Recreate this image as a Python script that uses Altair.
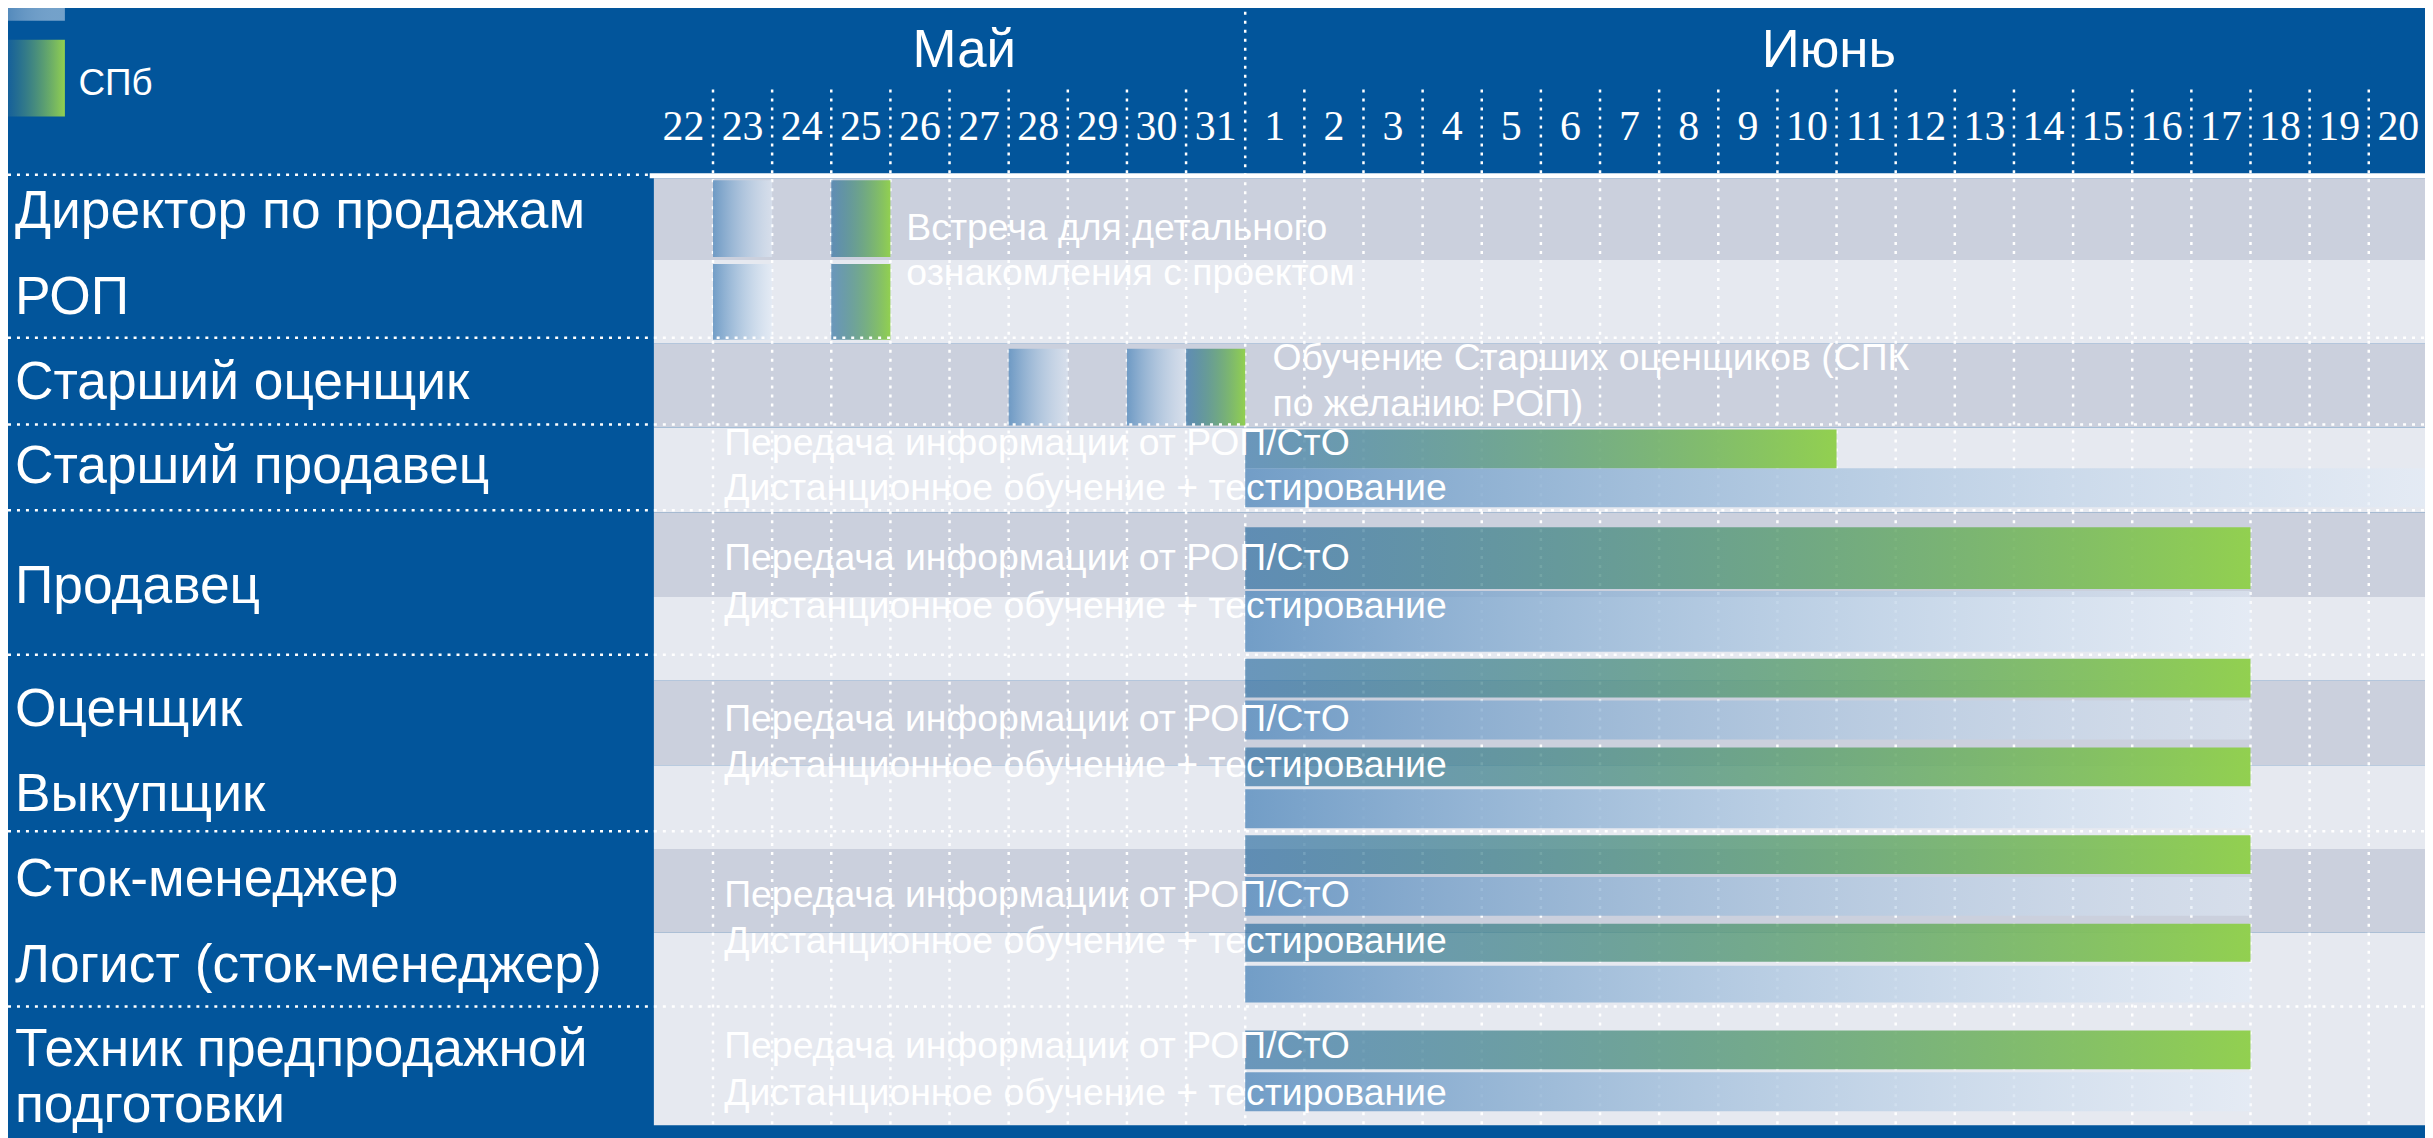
import altair as alt
import pandas as pd

# ---------------- DATA ----------------
day_labels = ["22", "23", "24", "25", "26", "27", "28", "29", "30", "31",
              "1", "2", "3", "4", "5", "6", "7", "8", "9", "10",
              "11", "12", "13", "14", "15", "16", "17", "18", "19", "20"]
month_names = ["Май", "Июнь"]

roles = ["Директор по продажам", "РОП", "Старший оценщик", "Старший продавец",
         "Продавец", "Оценщик", "Выкупщик", "Сток-менеджер",
         "Логист (сток-менеджер)", "Техник предпродажной подготовки"]

task_role = ["Директор по продажам", "Директор по продажам", "РОП", "РОП",
             "Старший оценщик", "Старший оценщик", "Старший оценщик",
             "Старший продавец", "Старший продавец",
             "Продавец", "Продавец",
             "Оценщик", "Оценщик", "Выкупщик", "Выкупщик",
             "Сток-менеджер", "Сток-менеджер",
             "Логист (сток-менеджер)", "Логист (сток-менеджер)",
             "Техник предпродажной подготовки", "Техник предпродажной подготовки"]
task_kind = ["msk", "spb", "msk", "spb",
             "msk", "msk", "spb",
             "spb", "msk",
             "spb", "msk",
             "spb", "msk", "spb", "msk",
             "spb", "msk",
             "spb", "msk",
             "spb", "msk"]
task_first = ["23", "25", "23", "25",
              "28", "30", "31",
              "1", "1",
              "1", "1",
              "1", "1", "1", "1",
              "1", "1",
              "1", "1",
              "1", "1"]
task_last = ["23", "25", "23", "25",
             "28", "30", "31",
             "10", "20",
             "17", "17",
             "17", "17", "17", "17",
             "17", "17",
             "17", "17",
             "17", "17"]

note_role = ["Директор по продажам", "Старший оценщик", "Старший продавец", "Продавец",
             "Оценщик", "Сток-менеджер", "Техник предпродажной подготовки"]
note_lines = [["Встреча для детального", "ознакомления с проектом"],
              ["Обучение Старших оценщиков (СПК", "по желанию РОП)"],
              ["Передача информации от РОП/СтО", "Дистанционное обучение + тестирование"],
              ["Передача информации от РОП/СтО", "Дистанционное обучение + тестирование"],
              ["Передача информации от РОП/СтО", "Дистанционное обучение + тестирование"],
              ["Передача информации от РОП/СтО", "Дистанционное обучение + тестирование"],
              ["Передача информации от РОП/СтО", "Дистанционное обучение + тестирование"]]
legend_label = "СПб"

# ---------------- LAYOUT (x in day units, y in vertical track units) ----------------
BG = "#02559B"
FONT = "Liberation Sans"
SERIF = "Liberation Serif"
W, H = 2425, 1130
X_DOMAIN = [-10.922, 29.951]
Y_DOMAIN = [8, 1138]
TOP_Y = 174.5
PLOT_BOTTOM = 1127
HEADER_GRID_TOP = 88
MONTH_GRID_TOP = 10
month_x = [5.25, 19.87]
MONTH_Y = 65
DAY_Y = 139
LABEL_X = -10.804

bands = [(177, 259, "dark"), (259, 343, "light"), (343, 427, "dark"), (427, 512, "light"),
         (512, 597, "dark"), (597, 681, "light"), (681, 766, "dark"), (766, 850, "light"),
         (850, 934, "dark"), (934, 1127, "light")]
group_lines = [337, 424, 510, 655, 832, 1008]

lanes = {
    "Директор по продажам": {"msk": (179, 256), "spb": (179, 256)},
    "РОП": {"msk": (263, 339), "spb": (263, 339)},
    "Старший оценщик": {"msk": (348, 425), "spb": (348, 425)},
    "Старший продавец": {"spb": (429, 468), "msk": (468, 507)},
    "Продавец": {"spb": (527, 589), "msk": (591, 652)},
    "Оценщик": {"spb": (659, 698), "msk": (701, 740)},
    "Выкупщик": {"spb": (748, 787), "msk": (790, 829)},
    "Сток-менеджер": {"spb": (836, 875), "msk": (878, 917)},
    "Логист (сток-менеджер)": {"spb": (925, 963), "msk": (967, 1004)},
    "Техник предпродажной подготовки": {"spb": (1032, 1071), "msk": (1074, 1113)},
}
label_wrap = {"Техник предпродажной подготовки": ["Техник предпродажной", "подготовки"]}
label_baselines = {
    "Директор по продажам": [227], "РОП": [313], "Старший оценщик": [398],
    "Старший продавец": [483], "Продавец": [603], "Оценщик": [727], "Выкупщик": [812],
    "Сток-менеджер": [897], "Логист (сток-менеджер)": [983],
    "Техник предпродажной подготовки": [1068, 1124],
}
note_pos = {
    "Директор по продажам": (4.27, [239, 284]),
    "Старший оценщик": (10.46, [369, 415]),
    "Старший продавец": (1.19, [455, 500]),
    "Продавец": (1.19, [570, 618]),
    "Оценщик": (1.19, [732, 778]),
    "Сток-менеджер": (1.19, [908, 954]),
    "Техник предпродажной подготовки": (1.19, [1060, 1107]),
}
legend_swatches = [("msk", -10.95, -9.96, 0, 19), ("spb", -10.95, -9.96, 38, 115)]
legend_text_pos = (-9.73, 93)

MSK_GRAD = {"gradient": "linear", "x1": 0, "y1": 0, "x2": 1, "y2": 0,
            "stops": [{"offset": 0, "color": "rgba(95,145,192,0.86)"},
                      {"offset": 1, "color": "rgba(226,236,248,0.5)"}]}
SPB_GRAD = {"gradient": "linear", "x1": 0, "y1": 0, "x2": 1, "y2": 0,
            "stops": [{"offset": 0, "color": "rgba(30,100,155,0.62)"},
                      {"offset": 1, "color": "rgba(146,208,80,1)"}]}

xs = alt.Scale(domain=X_DOMAIN, nice=False, zero=False)
ys = alt.Scale(domain=Y_DOMAIN, nice=False, zero=False, reverse=True)


def xe(f):
    return alt.X(f, type="quantitative", scale=xs, axis=None)


def ye(f):
    return alt.Y(f, type="quantitative", scale=ys, axis=None)


# ---------------- TABLES ----------------
n_days = len(day_labels)
bands_df = pd.DataFrame({"x0": 0.0, "x1": float(n_days),
                         "y0": [b[0] for b in bands], "y1": [b[1] for b in bands],
                         "shade": [b[2] for b in bands]})
topline_df = pd.DataFrame({"x0": [-0.07], "x1": [float(n_days)], "y0": [172], "y1": [177]})

vgrid_rows = []
for i in range(1, n_days):
    is_month = day_labels[i] == "1"
    vgrid_rows.append({"x": float(i), "y0": MONTH_GRID_TOP if is_month else HEADER_GRID_TOP,
                       "y1": PLOT_BOTTOM})
vgrid_df = pd.DataFrame(vgrid_rows)

hgrid_df = pd.DataFrame({"x0": X_DOMAIN[0], "x1": X_DOMAIN[1], "y": group_lines})
hgrid_top_df = pd.DataFrame({"x0": [X_DOMAIN[0]], "x1": [-0.07], "y": [TOP_Y - 1]})

task_rows = []
for r, k, f, l in zip(task_role, task_kind, task_first, task_last):
    y0, y1 = lanes[r][k]
    task_rows.append({"role": r, "kind": k, "x0": float(day_labels.index(f)),
                      "x1": float(day_labels.index(l) + 1), "y0": y0, "y1": y1})
tasks_df = pd.DataFrame(task_rows)

sw_df = pd.DataFrame([{"kind": s[0], "x0": s[1], "x1": s[2], "y0": s[3], "y1": s[4]}
                      for s in legend_swatches])

month_df = pd.DataFrame({"t": month_names, "x": month_x, "y": MONTH_Y})
day_df = pd.DataFrame({"t": day_labels, "x": [i + 0.5 for i in range(n_days)], "y": DAY_Y})

lab_rows = []
for r in roles:
    lines = label_wrap.get(r, [r])
    for line, yb in zip(lines, label_baselines[r]):
        lab_rows.append({"t": line, "x": LABEL_X, "y": yb})
lab_df = pd.DataFrame(lab_rows)

note_rows = []
for r, lines in zip(note_role, note_lines):
    nx, nys = note_pos[r]
    for line, yb in zip(lines, nys):
        note_rows.append({"t": line, "x": nx, "y": yb})
note_df = pd.DataFrame(note_rows)

leg_df = pd.DataFrame({"t": [legend_label], "x": [legend_text_pos[0]], "y": [legend_text_pos[1]]})

# ---------------- LAYERS ----------------
band_layer = alt.Chart(bands_df).mark_rect().encode(
    x=xe("x0"), x2="x1", y=ye("y0"), y2="y1",
    fill=alt.Fill("shade:N", scale=alt.Scale(domain=["dark", "light"],
                                             range=["#CBD0DD", "#E6E9F0"]), legend=None))

topline_layer = alt.Chart(topline_df).mark_rect(color="white").encode(
    x=xe("x0"), x2="x1", y=ye("y0"), y2="y1")

vgrid_layer = alt.Chart(vgrid_df).mark_rule(color="white", strokeWidth=2.5,
                                            strokeDash=[3, 6]).encode(
    x=xe("x"), y=ye("y0"), y2="y1")

msk_layer = alt.Chart(tasks_df).transform_filter(alt.datum.kind == "msk").mark_rect(
    fill=MSK_GRAD).encode(x=xe("x0"), x2="x1", y=ye("y0"), y2="y1")
spb_layer = alt.Chart(tasks_df).transform_filter(alt.datum.kind == "spb").mark_rect(
    fill=SPB_GRAD).encode(x=xe("x0"), x2="x1", y=ye("y0"), y2="y1")

hgrid_layer = alt.Chart(hgrid_df).mark_rule(color="white", strokeWidth=2.5,
                                            strokeDash=[3, 6]).encode(
    x=xe("x0"), x2="x1", y=ye("y"))
hgrid_top_layer = alt.Chart(hgrid_top_df).mark_rule(color="white", strokeWidth=2.5,
                                                    strokeDash=[3, 6]).encode(
    x=xe("x0"), x2="x1", y=ye("y"))

sw_msk = alt.Chart(sw_df).transform_filter(alt.datum.kind == "msk").mark_rect(
    fill=MSK_GRAD).encode(x=xe("x0"), x2="x1", y=ye("y0"), y2="y1")
sw_spb = alt.Chart(sw_df).transform_filter(alt.datum.kind == "spb").mark_rect(
    fill=SPB_GRAD).encode(x=xe("x0"), x2="x1", y=ye("y0"), y2="y1")

month_layer = alt.Chart(month_df).mark_text(font=FONT, fontSize=53, color="white",
                                            align="center", baseline="alphabetic").encode(
    x=xe("x"), y=ye("y"), text="t:N")
day_layer = alt.Chart(day_df).mark_text(font=SERIF, fontSize=42, color="white",
                                        align="center", baseline="alphabetic").encode(
    x=xe("x"), y=ye("y"), text="t:N")
lab_layer = alt.Chart(lab_df).mark_text(font=FONT, fontSize=53.5, color="white",
                                        align="left", baseline="alphabetic").encode(
    x=xe("x"), y=ye("y"), text="t:N")
note_layer = alt.Chart(note_df).mark_text(font=FONT, fontSize=37.5, color="white",
                                          align="left", baseline="alphabetic").encode(
    x=xe("x"), y=ye("y"), text="t:N")
leg_layer = alt.Chart(leg_df).mark_text(font=FONT, fontSize=37, color="white",
                                        align="left", baseline="alphabetic").encode(
    x=xe("x"), y=ye("y"), text="t:N")

chart = alt.layer(
    band_layer, topline_layer, vgrid_layer, msk_layer, spb_layer,
    hgrid_layer, hgrid_top_layer, sw_msk, sw_spb,
    month_layer, day_layer, lab_layer, note_layer, leg_layer
).properties(
    width=W, height=H, background=BG, padding=0,
    autosize=alt.AutoSizeParams(type="none")
).configure_view(stroke=None)

chart.save("out.html", embed_options={"renderer": "svg", "actions": False})
